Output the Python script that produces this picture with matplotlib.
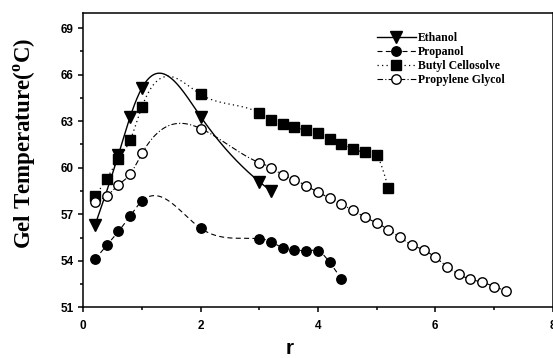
import numpy as np
import matplotlib
matplotlib.use("Agg")
import matplotlib.pyplot as plt
from matplotlib.lines import Line2D
from matplotlib.ticker import MultipleLocator

# ---- data ----
eth_x = [0.2, 0.6, 0.8, 1.0, 2.0, 3.0, 3.2]
eth_y = [56.3, 60.85, 63.3, 65.15, 63.3, 59.1, 58.5]

pro_x = [0.2, 0.4, 0.6, 0.8, 1.0, 2.0, 3.0, 3.2, 3.4, 3.6, 3.8, 4.0, 4.2, 4.4]
pro_y = [54.1, 55.0, 55.9, 56.9, 57.85, 56.1, 55.42, 55.24, 54.83, 54.72, 54.64, 54.64, 53.9, 52.83]

but_x = [0.2, 0.4, 0.6, 0.8, 1.0, 2.0, 3.0, 3.2, 3.4, 3.6, 3.8, 4.0, 4.2, 4.4, 4.6, 4.8, 5.0, 5.2]
but_y = [58.15, 59.3, 60.55, 61.8, 63.93, 64.73, 63.54, 63.11, 62.83, 62.62, 62.42, 62.23,
         61.84, 61.5, 61.22, 61.03, 60.83, 58.68]

pg_x = [0.2, 0.4, 0.6, 0.8, 1.0, 2.0, 3.0, 3.2, 3.4, 3.6, 3.8, 4.0, 4.2, 4.4, 4.6, 4.8,
        5.0, 5.2, 5.4, 5.6, 5.8, 6.0, 6.2, 6.4, 6.6, 6.8, 7.0, 7.2]
pg_y = [57.82, 58.18, 58.9, 59.6, 60.92, 62.53, 60.33, 60.01, 59.53, 59.23, 58.83, 58.43,
        58.03, 57.64, 57.25, 56.81, 56.45, 56.01, 55.51, 55.02, 54.71, 54.22, 53.63, 53.13,
        52.81, 52.62, 52.34, 52.06]

labels = ["Ethanol", "Propanol", "Butyl Cellosolve", "Propylene Glycol"]
x_ticks = [0, 2, 4, 6, 8]
y_ticks = [51, 54, 57, 60, 63, 66, 69]


def natural_spline(x, y, n=600):
    x = np.asarray(x, float)
    y = np.asarray(y, float)
    h = np.diff(x)
    m = len(x)
    A = np.zeros((m, m))
    b = np.zeros(m)
    A[0, 0] = 1
    A[-1, -1] = 1
    for i in range(1, m - 1):
        A[i, i - 1] = h[i - 1]
        A[i, i] = 2 * (h[i - 1] + h[i])
        A[i, i + 1] = h[i]
        b[i] = 6 * ((y[i + 1] - y[i]) / h[i] - (y[i] - y[i - 1]) / h[i - 1])
    M = np.linalg.solve(A, b)
    xs = np.linspace(x[0], x[-1], n)
    idx = np.clip(np.searchsorted(x, xs) - 1, 0, m - 2)
    x0, x1 = x[idx], x[idx + 1]
    hh = x1 - x0
    t0 = x1 - xs
    t1 = xs - x0
    ys = (M[idx] * t0 ** 3 / (6 * hh) + M[idx + 1] * t1 ** 3 / (6 * hh)
          + (y[idx] / hh - M[idx] * hh / 6) * t0 + (y[idx + 1] / hh - M[idx + 1] * hh / 6) * t1)
    return xs, ys


plt.rcParams['mathtext.fontset'] = 'custom'
plt.rcParams['mathtext.rm'] = 'Liberation Serif:bold'
plt.rcParams['mathtext.bf'] = 'Liberation Serif:bold'

W, H = 553, 358
fig = plt.figure(figsize=(W / 100, H / 100), dpi=100)
ax = fig.add_axes([83.3 / W, 1 - 307.3 / H, (552.6 - 83.3) / W, (307.3 - 12.7) / H])

series = [
    (eth_x, eth_y, '-', 'v', 'black', 8.0, 1.0),
    (pro_x, pro_y, (0, (4.5, 3.0)), 'o', 'black', 6.8, 0.8),
    (but_x, but_y, (0, (1.0, 2.6)), 's', 'black', 6.8, 0.9),
    (pg_x, pg_y, (0, (5, 2, 1, 2)), 'o', 'white', 6.8, 0.8),
]

handles = []
for (xs, ys, ls, mk, mfc, ms, lw), lab in zip(series, labels):
    sx, sy = natural_spline(xs, ys)
    ax.plot(sx, sy, color='black', linestyle=ls, linewidth=lw, zorder=2)
    ax.plot(xs, ys, linestyle='none', marker=mk, markersize=ms, markerfacecolor=mfc,
            markeredgecolor='black', markeredgewidth=1.0, zorder=3)
    handles.append(Line2D([], [], color='black', linestyle=ls, linewidth=lw, marker=mk,
                          markersize=ms, markerfacecolor=mfc, markeredgecolor='black',
                          markeredgewidth=1.0))

ax.set_xlim(0, 8)
ax.set_ylim(51, 70)
ax.set_xticks(x_ticks)
ax.set_yticks(y_ticks)
ax.xaxis.set_minor_locator(MultipleLocator(1))
ax.yaxis.set_minor_locator(MultipleLocator(1.5))
ax.tick_params(which='both', direction='out', top=False, right=False, width=1.1, color='black')
ax.tick_params(axis='x', which='major', length=3.5, pad=5.5)
ax.tick_params(axis='x', which='minor', length=2.2)
ax.tick_params(axis='y', which='major', length=3.8, pad=3)
ax.tick_params(axis='y', which='minor', length=2.2)
for lab in ax.get_xticklabels() + ax.get_yticklabels():
    lab.set_fontfamily('Liberation Sans')
    lab.set_fontweight('bold')
    lab.set_fontsize(8.5)
for sp in ax.spines.values():
    sp.set_linewidth(1.1)

leg = fig.legend(handles, labels, loc='upper left', bbox_to_anchor=(377 / W, 1 - 32 / H),
                 bbox_transform=fig.transFigure, frameon=False, borderpad=0,
                 borderaxespad=0, handlelength=3.3, handletextpad=0.15, labelspacing=0.16,
                 prop={'family': 'Liberation Serif', 'weight': 'bold', 'size': 8.5})

fig.text(25 / W, 1 - 143 / H, r'Gel Temperature($^{\mathbf{o}}$C)', rotation=90,
         ha='center', va='center', family='Liberation Serif', weight='bold', fontsize=16.5)
fig.text(290 / W, 3.5 / H, 'r', ha='center', va='baseline', family='Liberation Sans',
         weight='bold', fontsize=15)

fig.savefig('out.png', dpi=100, facecolor='white')
